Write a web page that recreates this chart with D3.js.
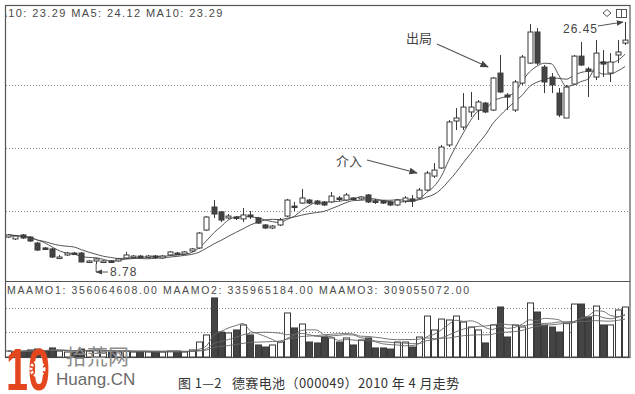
<!DOCTYPE html>
<html>
<head>
<meta charset="utf-8">
<script src="https://cdnjs.cloudflare.com/ajax/libs/d3/7.8.5/d3.min.js"></script>
<style>
body { margin: 0; background: #fff; }
svg { display: block; }
</style>
</head>
<body>
<div id="chart"></div>
<script>
// 德赛电池 (000049) daily bars
const opens = [10.75,10.61,10.90,10.75,10.31,9.95,9.88,9.22,9.44,9.58,9.58,8.93,9.00,8.93,9.00,9.00,9.22,9.29,9.36,9.29,9.36,9.22,9.44,9.58,9.51,9.73,9.95,11.26,12.94,12.58,12.14,12.21,12.07,12.36,12.14,11.63,11.41,11.63,12.28,13.01,13.23,13.45,13.38,13.31,13.31,13.60,13.45,13.60,13.53,13.82,13.38,13.38,13.31,13.09,13.38,13.53,13.60,14.18,15.20,15.79,17.47,19.22,18.78,19.88,20.02,20.53,20.02,22.72,21.12,20.02,21.99,23.45,25.72,23.16,22.43,21.26,19.44,21.92,23.96,23.02,22.43,23.53,22.72,24.04,24.91];
const highs = [10.97,10.90,10.97,10.82,10.39,10.02,9.95,9.44,9.66,9.66,9.66,9.07,9.22,9.07,9.07,9.22,9.66,9.44,9.44,9.44,9.44,9.44,9.73,9.66,9.73,9.95,11.11,12.28,13.45,12.65,12.43,12.28,12.87,12.65,12.21,11.70,11.63,12.14,13.53,13.31,14.26,13.53,13.45,13.38,14.04,13.74,13.96,13.67,13.74,13.89,13.53,13.45,13.38,13.53,13.74,13.82,14.33,15.57,16.15,17.47,19.29,20.17,21.26,21.34,20.75,20.61,22.43,24.04,21.26,22.21,24.04,26.30,26.01,23.31,22.72,21.63,21.85,24.04,24.99,23.16,25.13,24.40,24.18,25.13,26.45];
const lows = [10.68,10.53,10.61,10.39,9.73,9.80,9.22,9.15,9.36,9.44,8.89,8.85,8.78,8.85,8.85,8.93,9.15,9.22,9.22,9.22,9.15,9.15,9.36,9.44,9.44,9.66,9.88,11.19,12.14,11.85,12.07,11.99,11.85,12.07,11.70,11.33,11.33,11.55,12.21,12.65,13.16,13.16,13.09,13.01,13.23,13.38,13.38,13.45,13.45,13.23,13.16,13.16,13.01,13.01,13.23,12.94,13.53,14.11,15.06,15.72,17.32,18.56,18.56,19.51,19.29,19.80,19.95,21.26,20.02,19.88,21.85,23.38,23.31,21.26,21.26,19.51,19.44,21.85,23.24,20.97,22.21,22.43,22.07,23.45,24.77];
const closes = [10.90,10.82,10.68,10.46,9.80,9.88,9.29,9.29,9.58,9.51,8.93,9.00,9.15,9.00,8.93,9.15,9.44,9.36,9.29,9.36,9.29,9.36,9.66,9.51,9.66,9.88,11.04,12.21,12.43,11.99,12.28,12.14,12.36,12.28,11.77,11.41,11.55,11.99,13.45,12.94,13.60,13.23,13.16,13.09,13.74,13.53,13.82,13.53,13.67,13.31,13.31,13.23,13.09,13.45,13.60,13.38,14.18,15.42,15.64,17.32,19.15,19.44,20.24,20.24,20.61,19.88,22.36,21.34,20.97,22.07,23.89,25.72,23.45,22.07,21.85,19.66,21.70,23.96,23.31,22.87,24.18,23.38,23.53,24.26,25.13];
// turnover, million yuan
const amounts = [50,42,50,59,67,50,76,50,42,42,67,50,59,42,42,42,50,42,42,42,42,42,50,50,42,59,126,185,496,210,202,227,269,185,101,84,101,126,370,244,277,126,118,168,160,126,160,101,143,160,76,76,67,126,126,84,168,344,227,319,311,344,294,252,227,118,269,420,168,269,252,454,378,269,252,210,286,445,445,336,428,269,269,395,420];
const priceGrid = [12.65, 17.25, 21.85];
const amountGrid = [210, 412];
const priceHeader = ["MA10: 23.29", "MA5: 24.12", "MA10: 23.29"];
const amountHeader = ["MAAMO1: 356064608.00", "MAAMO2: 335965184.00", "MAAMO3: 309055072.00"];
const caption = "图 1—2   德赛电池（000049）2010 年 4 月走势";

const W = 635, H = 394;
const ink = "#3a3a3a";

const svg = d3.select("#chart").append("svg").attr("width", W).attr("height", H);
svg.append("defs").append("clipPath").attr("id", "frameClip")
	.append("rect").attr("x", 6).attr("y", 5).attr("width", 624).attr("height", 353);
const marker = svg.select("defs").append("marker").attr("id", "arrow")
	.attr("viewBox", "0 0 10 10").attr("refX", 9).attr("refY", 5)
	.attr("markerWidth", 7).attr("markerHeight", 7).attr("orient", "auto-start-reverse");
marker.append("path").attr("d", "M0,1 L10,5 L0,9 Z").attr("fill", "#444");

const data = opens.map((o, i) => ({i: i, o: o, h: highs[i], l: lows[i], c: closes[i], amt: amounts[i]}));

const x = d3.scaleLinear().domain([0, data.length - 1]).range([8, 625]);
const y = d3.scaleLinear().domain([8.78, 26.45]).range([264, 22]);
const yv = d3.scaleLinear().domain([0, 630]).range([357, 282]);
const bw = 5;

// simple moving average, using what is available at the start
function ma(arr, n) {
	return arr.map((v, i) => d3.mean(arr.slice(Math.max(0, i - n + 1), i + 1)));
}

// frame
svg.append("rect").attr("x", 5.5).attr("y", 5.5).attr("width", 624.5).attr("height", 352)
	.attr("fill", "none").attr("stroke", "#555").attr("stroke-width", 1.2);
svg.append("line").attr("x1", 5).attr("x2", 630).attr("y1", 281.5).attr("y2", 281.5)
	.attr("stroke", "#555").attr("stroke-width", 1.2);

// dotted grid
const plot = svg.append("g").attr("clip-path", "url(#frameClip)");
plot.selectAll(".pgrid").data(priceGrid).join("line")
	.attr("x1", 6).attr("x2", 630).attr("y1", d => Math.round(y(d)) + 0.5).attr("y2", d => Math.round(y(d)) + 0.5)
	.attr("stroke", "#888").attr("stroke-dasharray", "1,2");
plot.selectAll(".vgrid").data(amountGrid).join("line")
	.attr("x1", 6).attr("x2", 630).attr("y1", d => Math.round(yv(d)) + 0.5).attr("y2", d => Math.round(yv(d)) + 0.5)
	.attr("stroke", "#888").attr("stroke-dasharray", "1,2");

// price moving averages
const line = d3.line().x((d, i) => x(i)).y(d => y(d)).curve(d3.curveMonotoneX);
[5, 10].forEach(n => {
	plot.append("path").attr("d", line(ma(closes, n)))
		.attr("fill", "none").attr("stroke", "#555").attr("stroke-width", 1);
});

// candles
const candle = plot.selectAll(".candle").data(data).join("g").attr("class", "candle");
candle.append("line")
	.attr("x1", d => Math.round(x(d.i)) + 0.5).attr("x2", d => Math.round(x(d.i)) + 0.5)
	.attr("y1", d => y(d.h)).attr("y2", d => y(d.l))
	.attr("stroke", ink);
candle.append("rect")
	.attr("x", d => Math.round(x(d.i)) - 2)
	.attr("y", d => y(Math.max(d.o, d.c)))
	.attr("width", bw)
	.attr("height", d => Math.max(1.5, Math.abs(y(d.o) - y(d.c))))
	.attr("fill", d => d.c >= d.o ? "#fff" : "#444")
	.attr("stroke", ink);

// turnover bars and their averages
plot.selectAll(".bar").data(data).join("rect")
	.attr("x", d => Math.round(x(d.i)) - 2.5)
	.attr("y", d => yv(d.amt))
	.attr("width", 6)
	.attr("height", d => yv(0) - yv(d.amt))
	.attr("fill", d => d.c >= d.o ? "#fff" : "#444")
	.attr("stroke", ink);
const vline = d3.line().x((d, i) => x(i)).y(d => yv(d)).curve(d3.curveMonotoneX);
[5, 10, 20].forEach(n => {
	plot.append("path").attr("d", vline(ma(amounts, n)))
		.attr("fill", "none").attr("stroke", "#666").attr("stroke-width", 0.9);
});

// header texts
const head = svg.append("g").attr("clip-path", "url(#frameClip)")
	.attr("font-family", "Liberation Sans, Arial, sans-serif").attr("fill", "#4a4a4a");
head.append("text").attr("x", -11).attr("y", 17).attr("font-size", 11).attr("letter-spacing", 1.4)
	.text(priceHeader.join("  "));
head.append("text").attr("x", 7).attr("y", 294).attr("font-size", 10.5).attr("letter-spacing", 1.65)
	.text(amountHeader.join("  "));

// annotations
const note = svg.append("g").attr("font-family", "Noto Sans CJK SC, sans-serif").attr("fill", "#444");
note.append("text").attr("x", 406).attr("y", 43).attr("font-size", 13).text("出局");
note.append("line").attr("x1", 437).attr("y1", 44).attr("x2", 488).attr("y2", 67)
	.attr("stroke", "#555").attr("stroke-width", 1.2).attr("marker-end", "url(#arrow)");
note.append("text").attr("x", 336).attr("y", 166).attr("font-size", 13).text("介入");
note.append("line").attr("x1", 367).attr("y1", 160).attr("x2", 417).attr("y2", 173)
	.attr("stroke", "#555").attr("stroke-width", 1.2).attr("marker-end", "url(#arrow)");

// high / low markers
const hi = data[d3.maxIndex(highs)], lo = data[d3.minIndex(lows)];
note.append("text").attr("x", 563).attr("y", 33).attr("font-size", 12)
	.attr("font-family", "Liberation Sans, Arial, sans-serif").attr("letter-spacing", 1).text(d3.format(".2f")(hi.h));
note.append("line").attr("x1", 598).attr("y1", 26).attr("x2", x(hi.i) - 2).attr("y2", y(hi.h))
	.attr("stroke", "#555").attr("marker-end", "url(#arrow)");
note.append("line").attr("x1", x(lo.i)).attr("x2", x(lo.i)).attr("y1", y(lo.l)).attr("y2", y(lo.l) + 8)
	.attr("stroke", "#555");
note.append("line").attr("x1", 108).attr("y1", y(lo.l) + 8).attr("x2", x(lo.i)).attr("y2", y(lo.l) + 8)
	.attr("stroke", "#555").attr("marker-end", "url(#arrow)");
note.append("text").attr("x", 110).attr("y", y(lo.l) + 12).attr("font-size", 12)
	.attr("font-family", "Liberation Sans, Arial, sans-serif").attr("letter-spacing", 1).text(d3.format(".2f")(lo.l));

// small toolbar icons top right
svg.append("path").attr("d", "M603,13 L607,9.5 L611,13 L607,16.5 Z").attr("fill", "none").attr("stroke", "#555");
svg.append("rect").attr("x", 616.5).attr("y", 9.5).attr("width", 10).attr("height", 8).attr("fill", "none").attr("stroke", "#555");
svg.append("line").attr("x1", 621.5).attr("x2", 621.5).attr("y1", 9.5).attr("y2", 17.5).attr("stroke", "#555");

// watermark logo
const logo = svg.append("g");
logo.append("text").attr("x", 6).attr("y", 390).attr("font-size", 60).attr("font-weight", "bold")
	.attr("font-family", "Liberation Sans, Arial, sans-serif").attr("fill", "#e4461e")
	.attr("textLength", 44).attr("lengthAdjust", "spacingAndGlyphs").text("10");
logo.append("circle").attr("cx", 37.5).attr("cy", 369).attr("r", 6.5).attr("fill", "none")
	.attr("stroke", "#fff").attr("stroke-width", 3).attr("stroke-dasharray", "2.2,1.6");
logo.append("text").attr("x", 66).attr("y", 364).attr("font-size", 21)
	.attr("font-family", "Noto Sans CJK SC, sans-serif").attr("fill", "#8c8c8c").text("拾荒网");
logo.append("text").attr("x", 56).attr("y", 385).attr("font-size", 17)
	.attr("font-family", "Liberation Sans, Arial, sans-serif").attr("fill", "#6a6a6a").text("Huang.CN");

// caption
svg.append("text").attr("x", 178).attr("y", 388).attr("font-size", 13).attr("letter-spacing", 0.4)
	.attr("font-family", "Noto Sans CJK SC, sans-serif").attr("fill", "#333")
	.attr("xml:space", "preserve").style("white-space", "pre").text(caption);
</script>
</body>
</html>
